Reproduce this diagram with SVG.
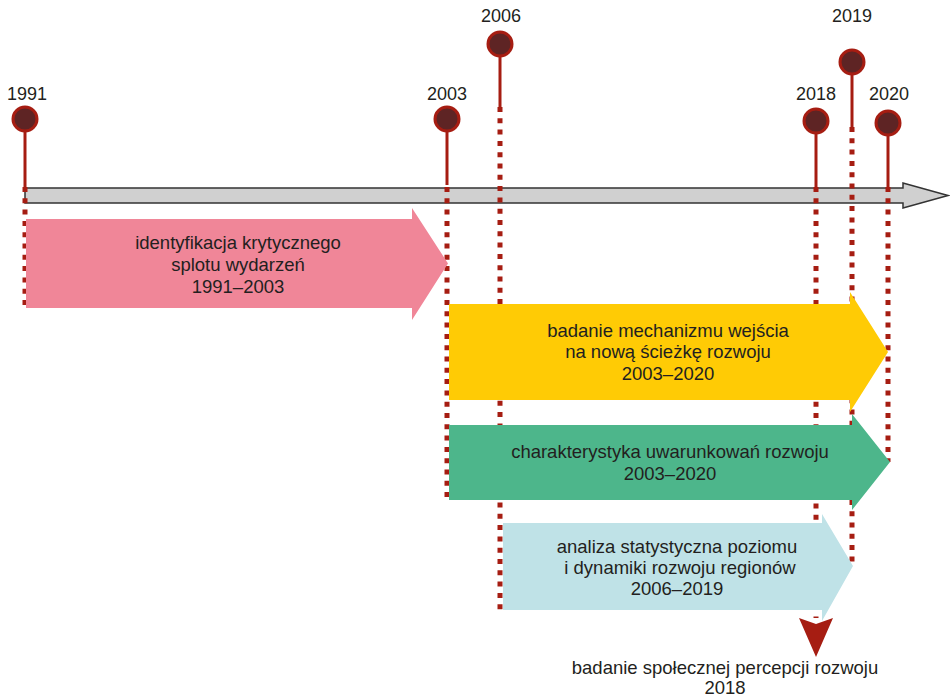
<svg xmlns="http://www.w3.org/2000/svg" width="950" height="697" viewBox="0 0 950 697">
<style>
.lbl{font-family:"Liberation Sans",Arial,sans-serif;font-size:18.5px;fill:#231f20;text-anchor:middle}
.yr{font-family:"Liberation Sans",Arial,sans-serif;font-size:18px;fill:#231f20;text-anchor:middle}
.dot{stroke:#a61d12;stroke-width:5;stroke-dasharray:5 6.3;fill:none}
.stem{stroke:#a61d12;stroke-width:3;fill:none}
.pin{fill:#5e2424;stroke:#a61d12;stroke-width:3}
</style>
<rect width="950" height="697" fill="#ffffff"/>
<g id="axis">
<polygon points="25,188 903,188 903,183 948,195.5 903,208 903,203 25,203" fill="#d0d0d0" stroke="#333333" stroke-width="1.5" stroke-linejoin="miter"/>
</g>
<g id="connectors">
<line class="dot" x1="25" y1="187" x2="25" y2="308"/>
<line class="dot" x1="447" y1="187" x2="447" y2="500"/>
<line class="dot" x1="500" y1="107" x2="500" y2="610"/>
<line class="dot" x1="816" y1="187" x2="816" y2="618"/>
<line class="dot" x1="852" y1="127" x2="852" y2="565"/>
<line class="dot" x1="888" y1="187" x2="888" y2="462"/>
</g>
<g id="y1991"><line class="stem" x1="25" y1="119" x2="25" y2="187"/><circle class="pin" cx="25" cy="119" r="12"/><text class="yr" x="27" y="100">1991</text></g>
<g id="y2003"><line class="stem" x1="447" y1="119" x2="447" y2="185"/><circle class="pin" cx="447" cy="119" r="12"/><text class="yr" x="447" y="100">2003</text></g>
<g id="y2006"><line class="stem" x1="500" y1="44" x2="500" y2="107"/><circle class="pin" cx="500" cy="44" r="12"/><text class="yr" x="501" y="22">2006</text></g>
<g id="y2018"><line class="stem" x1="816" y1="121" x2="816" y2="187"/><circle class="pin" cx="816" cy="121" r="12"/><text class="yr" x="816" y="100">2018</text></g>
<g id="y2019"><line class="stem" x1="852" y1="62" x2="852" y2="127"/><circle class="pin" cx="852" cy="62" r="12"/><text class="yr" x="852" y="22">2019</text></g>
<g id="y2020"><line class="stem" x1="888" y1="123" x2="888" y2="187"/><circle class="pin" cx="888" cy="123" r="12"/><text class="yr" x="889" y="100">2020</text></g>
<g id="pink">
<polygon points="26,219 412,219 412,208 448,263.5 412,320 412,308 26,308" fill="#f08698"/>
<text class="lbl" x="238" y="249">identyfikacja krytycznego</text>
<text class="lbl" x="238" y="271">splotu wydarzeń</text>
<text class="lbl" x="238" y="293">1991–2003</text>
</g>
<g id="yellow">
<polygon points="449,304 850,304 850,292 888,352 850,412 850,400 449,400" fill="#ffcb05"/>
<text class="lbl" x="668" y="337">badanie mechanizmu wejścia</text>
<text class="lbl" x="668" y="358">na nową ścieżkę rozwoju</text>
<text class="lbl" x="668" y="380">2003–2020</text>
</g>
<g id="green">
<polygon points="449,425 852,425 852,414 890,462 852,510 852,500 449,500" fill="#4db68b"/>
<text class="lbl" x="670" y="458">charakterystyka uwarunkowań rozwoju</text>
<text class="lbl" x="670" y="480">2003–2020</text>
</g>
<g id="lightblue">
<polygon points="503,523 822,523 822,514 853,566 822,621 822,610 503,610" fill="#bfe2e7"/>
<text class="lbl" x="677" y="553">analiza statystyczna poziomu</text>
<text class="lbl" x="680" y="574">i dynamiki rozwoju regionów</text>
<text class="lbl" x="677" y="595">2006–2019</text>
</g>
<g id="survey">
<polygon points="799,618 816,624 833,618 816,657" fill="#a61d12"/>
<text class="lbl" x="725" y="674">badanie społecznej percepcji rozwoju</text>
<text class="lbl" x="725" y="694">2018</text>
</g>
</svg>
